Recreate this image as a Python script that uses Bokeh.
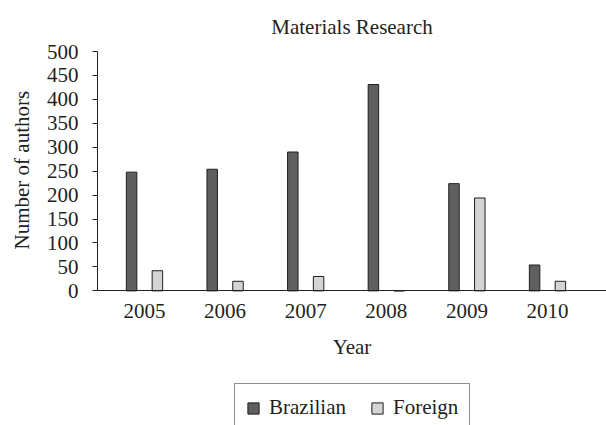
from bokeh.plotting import figure
from bokeh.models import Range1d, FixedTicker, Legend, LegendItem, ColumnDataSource, Title
from bokeh.transform import dodge
from bokeh.embed import file_html
from bokeh.resources import INLINE

years = [2005, 2006, 2007, 2008, 2009, 2010]
brazilian = [248, 254, 290, 431, 224, 54]
foreign = [42, 20, 30, 0, 194, 20]
year_labels = ["2005", "2006", "2007", "2008", "2009", "2010"]
y_ticks = [0, 50, 100, 150, 200, 250, 300, 350, 400, 450, 500]

FONT = "Liberation Serif"
TXT = "#231f20"

src = ColumnDataSource(dict(year=years, brazilian=brazilian, foreign=foreign))

# frame spans from the title area down to the bottom of the canvas;
# value 0 sits at 240 px below the top of the frame (0.48 px per author)
p = figure(width=606, height=425, output_backend="svg", toolbar_location=None,
           x_range=Range1d(2004.417, 2010.732), y_range=Range1d(-281.25, 500),
           min_border_left=97, min_border_right=0, min_border_top=50, min_border_bottom=0)

title = Title(text="Materials Research", align="center", vertical_align="bottom",
              text_font=FONT, text_font_size="21px", text_font_style="normal",
              text_color=TXT, standoff=25)
p.title = title

p.outline_line_color = None
p.xgrid.grid_line_color = None
p.ygrid.grid_line_color = None
p.background_fill_color = "white"
p.border_fill_color = "white"

r1 = p.vbar(x=dodge("year", -0.16, range=p.x_range), top="brazilian", width=0.13, source=src,
            fill_color="#5f5f5f", line_color="#1e1e1e", line_width=1)
r2 = p.vbar(x=dodge("year", 0.16, range=p.x_range), top="foreign", width=0.13, source=src,
            fill_color="#d4d4d4", line_color="#1e1e1e", line_width=1)

xa = p.xaxis[0]
xa.fixed_location = 0
xa.ticker = FixedTicker(ticks=years)
xa.major_label_overrides = {y: l for y, l in zip(years, year_labels)}
xa.major_tick_out = 0
xa.major_tick_in = 0
xa.minor_tick_out = 0
xa.minor_tick_in = 0
xa.axis_label = "Year"
xa.major_label_standoff = 13
xa.axis_label_standoff = 14

ya = p.yaxis[0]
ya.ticker = FixedTicker(ticks=y_ticks)
ya.bounds = (0, 500)
ya.major_tick_out = 5
ya.major_tick_in = 0
ya.minor_tick_out = 0
ya.minor_tick_in = 0
ya.major_label_standoff = 14

for ax in (xa, ya):
    ax.axis_line_color = TXT
    ax.major_tick_line_color = TXT
    ax.major_label_text_font = FONT
    ax.major_label_text_font_size = "21px"
    ax.major_label_text_color = TXT
    ax.axis_label_text_font = FONT
    ax.axis_label_text_font_size = "21px"
    ax.axis_label_text_font_style = "normal"
    ax.axis_label_text_color = TXT

# y-axis label, centred on the 0-500 span rather than on the whole frame
ylab = Title(text="Number of authors", align="left", vertical_align="top", offset=176,
             text_font=FONT, text_font_size="21px", text_font_style="normal",
             text_color=TXT, standoff=15)
p.add_layout(ylab, "left")

legend = Legend(items=[LegendItem(label="Brazilian", renderers=[r1]),
                       LegendItem(label="Foreign", renderers=[r2])],
                orientation="horizontal", location=(137, -7))
legend.border_line_color = TXT
legend.border_line_width = 1
legend.background_fill_color = "white"
legend.background_fill_alpha = 1
legend.glyph_width = 14
legend.glyph_height = 14
legend.padding = 11
legend.margin = 0
legend.label_standoff = 9
legend.spacing = 24
legend.label_text_font = FONT
legend.label_text_font_size = "21px"
legend.label_text_color = TXT
p.add_layout(legend, "center")

open("out.html", "w").write(file_html(p, INLINE))
